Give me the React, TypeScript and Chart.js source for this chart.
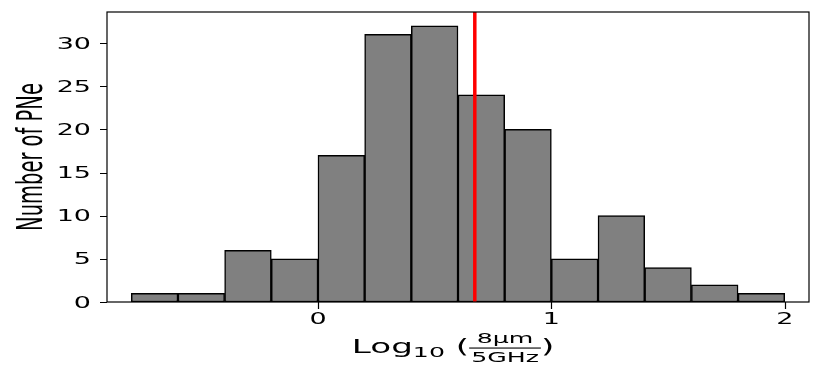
import React, { useEffect, useRef } from "react";
import { Chart, registerables } from "chart.js";

Chart.register(...registerables);

const binCenters = [-0.7, -0.5, -0.3, -0.1, 0.1, 0.3, 0.5, 0.7, 0.9, 1.1, 1.3, 1.5, 1.7, 1.9];
const counts = [1, 1, 6, 5, 17, 31, 32, 24, 20, 5, 10, 4, 2, 1];
const markerValue = 0.672;
const xTickValues = [0, 1, 2];
const yTickValues = [0, 5, 10, 15, 20, 25, 30];
const yTitle = "Number of PNe";

const SX = 1.8; // horizontal stretch of text in reference
const FONT = '"DejaVu Sans", sans-serif';

function drawStretched(ctx: CanvasRenderingContext2D, text: string, x: number, y: number, size: number, align: CanvasTextAlign) {
  ctx.save();
  ctx.translate(x, y);
  ctx.scale(SX, 1);
  ctx.font = `${size}px ${FONT}`;
  ctx.textAlign = align;
  ctx.textBaseline = "alphabetic";
  ctx.fillText(text, 0, 0);
  ctx.restore();
}

const axesPlugin = {
  id: "mplAxes",
  afterDatasetsDraw(chart: any) {
    const ctx: CanvasRenderingContext2D = chart.ctx;
    const { left, right, top, bottom } = chart.chartArea;
    const xs = chart.scales.x;
    const ys = chart.scales.y;
    ctx.save();
    ctx.strokeStyle = "#000";
    ctx.lineWidth = 1.2;
    ctx.strokeRect(left, top, right - left, bottom - top);
    // tick marks
    ctx.beginPath();
    xTickValues.forEach((v) => {
      const px = Math.round(xs.getPixelForValue(v)) + 0.5;
      ctx.moveTo(px, bottom);
      ctx.lineTo(px, bottom + 7);
    });
    yTickValues.forEach((v) => {
      const py = Math.round(ys.getPixelForValue(v)) + 0.5;
      ctx.moveTo(left, py);
      ctx.lineTo(left - 7, py);
    });
    ctx.stroke();
    ctx.fillStyle = "#000";
    // tick labels
    xTickValues.forEach((v) => {
      drawStretched(ctx, String(v), xs.getPixelForValue(v), bottom + 21.5, 15, "center");
    });
    yTickValues.forEach((v) => {
      drawStretched(ctx, String(v), left - 16, ys.getPixelForValue(v) + 5.5, 15, "right");
    });
    // y title
    ctx.save();
    ctx.translate(41.5, (top + bottom) / 2);
    ctx.scale(SX, 1);
    ctx.rotate(-Math.PI / 2);
    ctx.font = `19.5px ${FONT}`;
    ctx.textAlign = "center";
    ctx.textBaseline = "alphabetic";
    ctx.fillText(yTitle, 0, 0);
    ctx.restore();
    // x title: Log_10 (8μm / 5GHz)
    const big = 19;
    const small = 14;
    const m = (t: string, s: number) => {
      ctx.font = `${s}px ${FONT}`;
      return ctx.measureText(t).width * SX;
    };
    const wLog = m("Log", big);
    const wSub = m("10", small);
    const wOpen = m(" (", big);
    const wNum = m("8μm", small);
    const wDen = m("5GHz", small);
    const wFrac = Math.max(wNum, wDen) + 4;
    const wClose = m(")", big);
    const total = wLog + wSub + wOpen + wFrac + wClose;
    const base = bottom + 51;
    let x = (left + right) / 2 - total / 2 - 5;
    drawStretched(ctx, "Log", x, base, big, "left");
    x += wLog;
    drawStretched(ctx, "10", x, base + 3.7, small, "left");
    x += wSub;
    drawStretched(ctx, " (", x, base, big, "left");
    x += wOpen;
    drawStretched(ctx, "8μm", x + wFrac / 2, base - 10, small, "center");
    drawStretched(ctx, "5GHz", x + wFrac / 2, base + 8.7, small, "center");
    ctx.fillRect(x, base - 5.5, wFrac, 1.1);
    x += wFrac;
    drawStretched(ctx, ")", x, base, big, "left");
    ctx.restore();
  },
};

export default function App() {
  const ref = useRef<HTMLCanvasElement | null>(null);
  useEffect(() => {
    if (!ref.current) return;
    const chart = new Chart(ref.current, {
      type: "bar",
      data: {
        datasets: [
          {
            type: "line",
            data: [
              { x: markerValue, y: 0 },
              { x: markerValue, y: 33.6 },
            ],
            borderColor: "#ff0000",
            borderWidth: 3.5,
            pointRadius: 0,
            order: 0,
          } as any,
          {
            type: "bar",
            data: binCenters.map((c, i) => ({ x: c, y: counts[i] })),
            backgroundColor: "#808080",
            borderColor: "#000000",
            borderWidth: 1.5,
            borderSkipped: false,
            barPercentage: 1,
            categoryPercentage: 1,
            order: 1,
          } as any,
        ],
      },
      options: {
        animation: false,
        responsive: false,
        devicePixelRatio: 1,
        layout: { padding: { top: 12, right: 21, left: 0, bottom: 0 } },
        plugins: { legend: { display: false }, tooltip: { enabled: false } },
        scales: {
          x: {
            type: "linear",
            offset: false,
            min: -0.904,
            max: 2.104,
            ticks: { display: false },
            grid: { display: false, offset: false },
            border: { display: false },
            afterFit: (s: any) => {
              s.height = 68;
            },
          },
          y: {
            min: 0,
            max: 33.6,
            ticks: { display: false },
            grid: { display: false },
            border: { display: false },
            afterFit: (s: any) => {
              s.width = 107;
            },
          },
        },
      },
      plugins: [axesPlugin],
    });
    return () => chart.destroy();
  }, []);
  return (
    <div style={{ position: "fixed", left: 0, top: 0, width: 830, height: 370, background: "#fff" }}>
      <canvas ref={ref} width={830} height={370} style={{ display: "block" }} />
    </div>
  );
}
